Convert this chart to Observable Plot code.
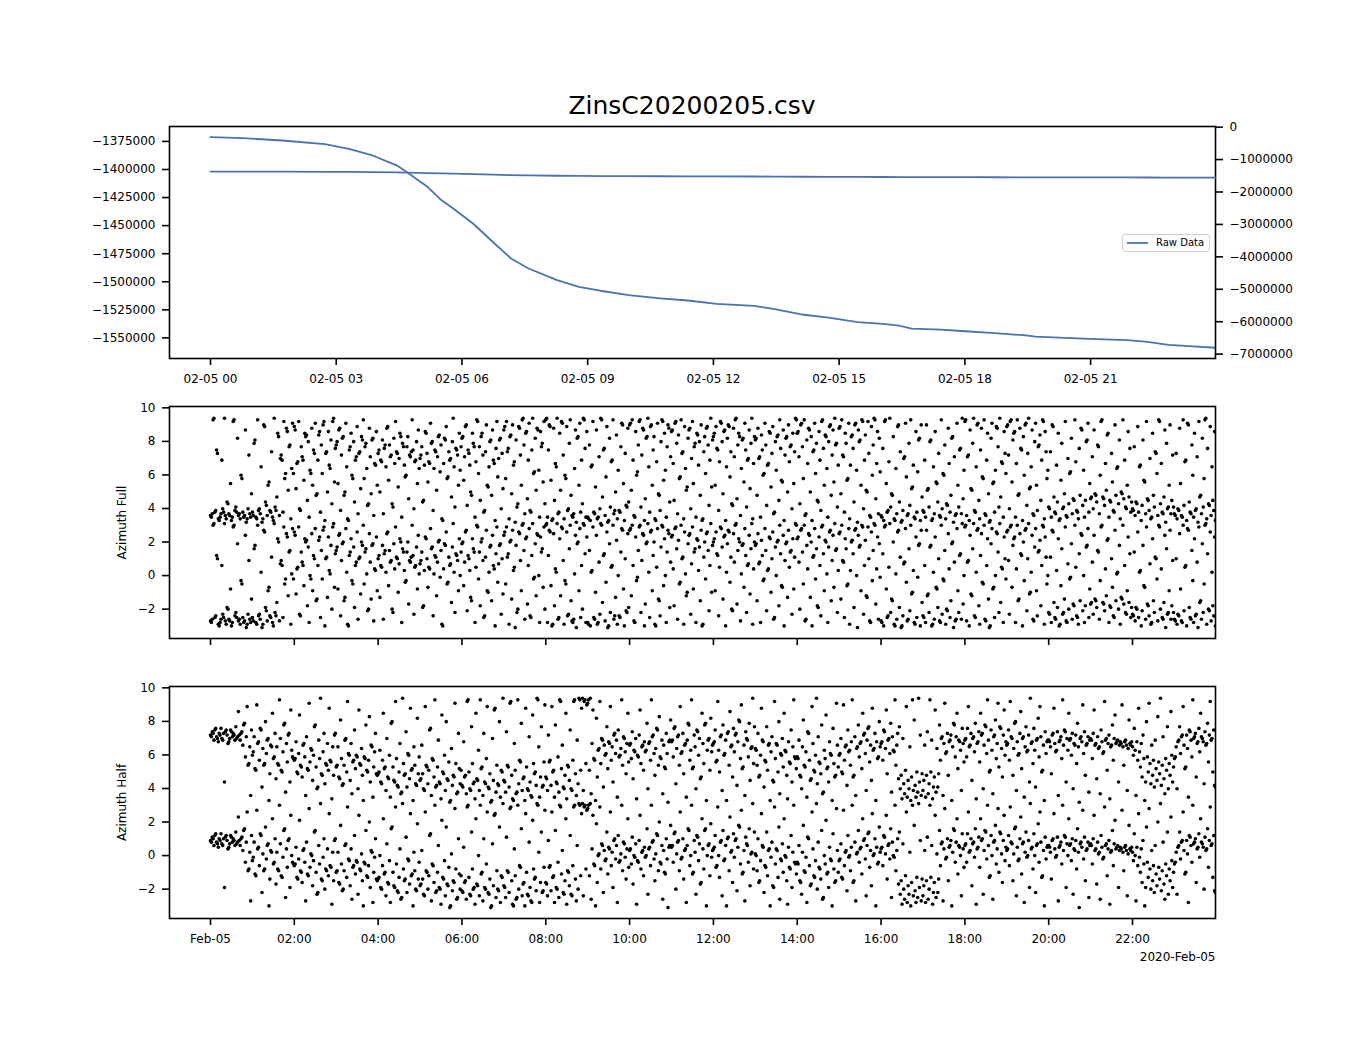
<!DOCTYPE html>
<html>
<head>
<meta charset="utf-8">
<script src="https://cdn.jsdelivr.net/npm/d3@7"></script>
<script src="https://cdn.jsdelivr.net/npm/@observablehq/plot@0.6"></script>
<style>
  body { margin: 0; background: #fff; font-family: "DejaVu Sans", sans-serif; }
  #fig { position: relative; width: 1350px; height: 1050px; overflow: hidden; background: #fff; }
  #fig svg { position: absolute; left: 0; overflow: visible; }
  #title { position: absolute; left: 0; top: 93px; width: 1384px; text-align: center; font-size: 25px; line-height: 25px; color: #000; }
  #legend { position: absolute; left: 1122px; top: 234px; width: 86px; height: 16px; border: 1px solid #cfcfcf; border-radius: 3px; background: rgba(255,255,255,0.8); font-size: 10px; color: #000; }
  #legend .lt { position: absolute; left: 33px; top: 2px; line-height: 12px; }
</style>
</head>
<body>
<div id="fig">
  <div id="title"></div>
</div>
<script>
// ---------------- data ----------------
const figTitle = "ZinsC20200205.csv";
const legendLabel = "Raw Data";
const dayLabel = "2020-Feb-05";
const fullLabel = "Azimuth Full";
const halfLabel = "Azimuth Half";

// Raw data curve (hours after 2020-02-05 00:00, value)
const rawHours = [0, 0.77, 1.79, 2.73, 3.33, 3.84, 4.44, 4.69, 5.16, 5.50, 5.80, 6.27, 6.74, 7.17, 7.59, 8.27, 8.79, 9.30, 9.98, 10.73, 11.39, 12.08, 12.97, 13.46, 14.16, 14.75, 15.44, 16.04, 16.43, 16.73, 17.42, 18.01, 18.71, 19.40, 19.69, 20.39, 20.98, 21.87, 22.36, 22.86, 23.35, 23.97];
const rawValues = [-1371200, -1372000, -1374400, -1377400, -1381800, -1387100, -1396300, -1402500, -1414900, -1427000, -1435000, -1448300, -1464600, -1479300, -1488200, -1498600, -1504500, -1508000, -1511900, -1514800, -1516700, -1519700, -1521400, -1524400, -1529400, -1532000, -1535900, -1537600, -1539100, -1541700, -1542600, -1544100, -1545800, -1547600, -1548800, -1550000, -1550900, -1552000, -1553500, -1556200, -1557300, -1558800];

// Tick values
const leftTicks = [-1375000, -1400000, -1425000, -1450000, -1475000, -1500000, -1525000, -1550000];
const rightTicks = [0, -1000000, -2000000, -3000000, -4000000, -5000000, -6000000, -7000000];
const topTickHours = [0, 3, 6, 9, 12, 15, 18, 21];
const bottomTickHours = [0, 2, 4, 6, 8, 10, 12, 14, 16, 18, 20, 22];
const azTicks = [-2, 0, 2, 4, 6, 8, 10];

// Azimuth Full, radians, one row per hour of samples (each also drawn +2π)
const azFullByHour = [
[-2.7,-2.8,-2.6,3.0,3.1,-2.5,-2.4,1.2,1.0,-2.9,-3.0,-2.8,-2.6,0.6,-2.3,-2.5,3.1,-2.7,-2.9,-1.9,-2.0,-2.6,-2.7,-0.8,-3.0,-2.8,2.9,3.0,-2.4,-2.2,-2.5,1.9,-2.7,-2.6,-2.9,-0.3,-0.5,-2.5,-2.8,-2.7,2.4,-3.1,-2.9,-2.3,0.9,-2.6,-2.8,-1.4],
[-2.5,-2.7,1.6,1.8,-2.8,-2.9,3.0,-2.4,-2.3,-2.6,0.2,-3.1,-2.9,2.7,2.6,-1.9,-2.1,-2.7,-0.9,-0.7,-2.4,-2.5,1.1,-2.8,-3.0,3.1,-2.2,-2.4,-1.6,2.2,2.0,-2.7,0.7,0.9,0.6,-2.5,2.9,-0.5,-0.2,2.5,2.3,-1.2,1.4,1.5,-2.9,0.1,2.8,-0.2],
[2.6,2.4,-1.1,0.4,0.5,2.9,-2.3,-2.4,1.4,0.8,0.6,-0.6,2.2,2.0,2.1,-1.8,1.7,-2.8,0.0,-0.2,2.5,-0.9,1.2,1.0,2.8,-1.5,-1.4,0.6,2.1,2.3,-2.5,1.5,-0.2,2.7,2.9,-3.0,1.0,1.1,-1.3,2.3,0.3,0.1,1.8,-2.0,2.9,3.1,-0.7,1.3],
[1.5,1.7,-0.8,2.4,2.5,-2.4,0.9,1.9,2.0,-1.5,-1.3,2.8,0.2,-2.9,-3.0,1.2,1.4,2.2,-0.3,-0.5,1.7,-1.9,0.6,0.8,2.6,-2.6,1.0,1.1,-1.1,2.0,1.8,3.0,-0.5,1.4,1.6,0.1,-2.1,-2.0,2.5,0.8,-1.4,1.8,1.9,-2.7,0.4,0.3,2.3,-0.9],
[1.0,1.2,-1.3,0.6,0.5,1.8,-2.6,1.3,1.5,0.2,2.5,2.6,-0.6,1.5,0.8,0.9,-2.0,-2.2,1.9,0.4,2.9,1.1,1.0,-1.0,0.7,2.2,2.0,-2.8,1.6,1.4,0.3,-0.4,-0.3,1.4,2.0,-1.7,0.9,0.8,1.1,3.0,1.2,-2.3,0.5,0.6,1.7,-0.8,2.4,0.1],
[0.7,0.9,1.4,-1.9,-1.8,0.3,2.3,2.2,1.0,-0.7,0.5,0.4,2.8,1.6,1.7,-2.4,0.1,1.2,1.1,-1.2,0.8,2.0,2.1,-0.1,1.5,-2.9,-3.0,0.4,1.9,1.8,2.6,-0.5,-0.4,1.1,0.6,0.7,-1.6,1.7,3.1,0.2,-2.2,1.3,1.2,0.9,-0.9,2.2,0.0,1.4],
[1.9,2.0,-0.6,0.8,2.6,2.7,-2.1,1.2,1.0,0.3,-1.3,-1.5,2.2,1.6,1.4,-2.8,0.5,3.0,2.9,-0.2,1.4,-1.8,2.0,2.2,0.9,-2.5,-2.4,1.1,2.7,-0.9,-1.0,0.2,1.7,1.8,-1.5,2.4,0.6,0.4,-3.0,1.3,2.9,-0.4,0.7,1.8,1.9,-2.3,1.0,-1.1],
[2.4,2.6,-0.5,2.9,1.1,1.3,-2.9,2.0,2.1,-1.4,2.7,0.3,0.5,-3.1,1.8,-2.2,-2.0,2.6,2.5,0.9,-0.9,3.0,3.1,1.5,-2.6,2.2,2.3,-1.7,0.6,2.8,-2.4,-2.5,1.2,3.1,-0.2,-0.1,1.9,-1.2,2.5,2.4,0.0,-2.8,2.3,1.4,1.6,-0.7,2.9,-2.0],
[3.0,3.1,-2.8,1.2,2.7,2.6,-0.6,-3.0,-2.9,2.5,-1.8,0.4,0.2,3.1,-2.6,-2.5,2.2,-1.2,2.9,2.8,0.9,-2.9,-0.3,-0.5,2.6,-2.4,-2.3,1.6,3.0,-1.5,-2.7,-2.8,-2.6,0.1,2.4,-3.1,1.9,2.0,-0.9,2.8,-2.5,0.6,-2.0,3.1,3.0,1.3,-2.8,2.3],
[-2.8,-2.9,1.5,-3.0,0.2,0.3,2.9,-2.5,-2.6,-1.0,2.4,-2.9,-2.8,0.8,-2.3,3.1,3.0,-1.6,1.2,1.3,-2.7,-0.4,2.6,-3.1,-3.0,1.9,-2.2,0.5,0.6,3.0,-2.6,-2.4,-1.3,2.1,-2.9,0.0,-2.4,-2.5,1.4,2.8,2.7,-0.8,-3.0,1.0,-2.1,-2.2,2.5,-1.9],
[2.7,2.8,-1.2,3.0,0.6,-2.7,-2.8,2.3,-0.3,-0.1,1.5,2.9,3.0,-2.2,0.9,2.5,2.4,-3.0,-1.7,1.9,2.0,3.1,0.2,-2.5,2.6,2.7,-0.9,1.2,2.0,-2.9,-3.0,0.5,2.8,-1.4,-1.5,-2.4,1.7,3.0,2.9,-0.6,2.2,0.0,-2.8,1.4,2.7,2.5,-1.9,0.8],
[2.3,2.4,0.4,-1.8,2.8,2.9,1.6,-2.6,2.1,-0.5,-0.4,3.0,1.0,1.1,-2.9,2.6,0.1,-1.2,-1.0,1.9,2.4,2.5,-2.3,0.7,2.9,-0.8,1.4,1.6,-2.8,2.2,2.1,0.3,1.7,-1.5,2.7,-3.0,-2.9,1.1,2.0,-0.2,2.5,2.6,1.5,-2.1,0.6,3.1,-1.0,1.8],
[2.0,2.2,-0.9,2.6,1.3,1.2,-2.4,0.5,2.9,2.8,1.7,-1.4,2.3,2.4,-3.0,0.2,1.9,2.7,2.6,-0.4,1.1,-2.0,-2.1,2.5,0.8,3.0,3.1,-1.7,1.5,2.2,2.0,-2.7,0.1,1.8,1.9,-0.7,2.8,1.2,-2.2,0.6,0.7,2.4,-1.1,1.6,3.1,-2.9,0.4,2.0],
[1.8,1.9,-1.5,2.5,0.7,0.8,-2.8,2.1,1.2,-0.3,-0.2,2.8,1.5,-2.1,0.3,0.4,2.3,2.2,-1.0,1.0,2.6,-2.6,-2.5,1.7,0.0,2.0,2.1,-1.8,3.0,1.3,-0.6,-0.7,2.4,-3.0,0.9,1.9,2.0,-1.3,2.7,0.5,1.4,1.5,-2.3,2.2,-0.8,1.1,3.1,3.0],
[2.2,2.3,0.8,-2.0,2.7,2.8,1.4,-0.5,3.0,-2.7,-2.6,1.8,0.4,2.5,2.4,-1.3,2.0,-3.0,1.1,1.2,2.8,-0.2,1.6,-1.8,-1.9,2.3,0.6,-2.4,2.9,3.0,1.3,-0.9,2.1,2.0,0.1,-2.8,1.7,2.6,2.7,-1.5,0.9,2.4,-0.7,3.1,1.5,1.6,-2.2,0.3],
[2.5,2.6,-1.4,3.0,0.9,0.8,-2.5,2.2,1.6,-0.6,-0.5,2.8,-2.9,0.3,2.0,2.1,1.3,-1.9,2.7,2.8,0.0,-3.1,2.4,1.7,1.8,-0.9,3.0,2.9,-2.3,0.6,2.1,-1.2,-1.3,2.9,1.0,-2.7,-2.8,2.6,-0.3,1.5,3.1,3.0,-1.7,0.4,2.3,-2.6,1.9,-0.1],
[-2.7,-2.8,1.3,-3.0,2.9,3.0,-0.8,-2.5,-2.4,0.5,3.1,-2.2,-1.4,-1.5,2.0,-2.9,-3.0,0.1,-2.6,2.6,2.7,-1.9,1.1,-3.1,-3.0,-2.4,0.7,0.8,2.8,-0.4,-2.7,-2.6,1.6,-2.1,3.0,-1.1,-1.0,0.3,-2.8,-2.9,2.3,-2.5,-0.1,1.8,1.9,-3.0,2.7,-1.6],
[-2.4,-2.5,0.6,-2.8,2.7,-1.2,-1.1,-2.2,1.7,1.8,-3.0,-2.9,0.2,-2.6,2.3,-0.7,-0.8,-1.9,1.0,-2.7,-2.8,3.0,-2.3,-0.2,-0.3,1.5,-2.9,-2.0,-2.1,2.5,0.4,-2.5,-1.5,1.9,2.0,-3.1,0.8,-2.7,-2.6,2.8,-0.9,-2.2,1.2,1.3,-2.6,3.1,-1.7,0.0],
[2.9,3.0,-2.7,0.8,0.9,-3.0,2.4,-1.1,-1.2,1.6,3.1,-2.4,-2.5,0.2,2.7,2.8,-1.8,-2.9,1.2,2.5,-0.4,-0.5,3.0,-2.6,-2.7,0.6,2.2,-1.4,-3.1,-3.0,1.9,2.8,-0.8,-0.7,-2.5,0.0,2.6,2.5,1.4,-2.2,3.1,-1.6,0.5,0.4,-2.8,2.3,1.0,-0.2],
[2.6,2.7,0.9,-2.3,2.9,3.0,-0.7,1.8,2.2,2.3,-2.8,0.4,3.0,-1.5,-1.4,2.5,1.3,1.2,-3.0,2.0,-0.3,2.7,2.8,-2.1,1.0,3.1,-1.1,-1.0,0.2,2.4,-2.6,-2.7,1.7,2.8,-0.9,-2.4,1.4,1.5,2.1,-1.8,0.6,3.0,2.9,-2.9,2.3,1.1,-0.5,0.0],
[-2.2,-2.3,1.1,-2.8,2.7,2.6,-1.6,-2.5,-2.6,0.3,-1.9,2.2,-3.0,-2.9,-0.6,1.6,-2.3,-2.2,-1.4,2.9,-2.7,-2.8,0.7,-2.0,-0.2,-0.1,1.9,-2.6,-1.7,-1.8,3.0,0.5,-2.4,-2.5,-2.9,1.3,-1.5,2.5,2.4,-2.1,0.0,-2.8,-1.8,1.7,1.8,2.8,-2.5,-0.8],
[-1.7,-1.6,0.8,-2.3,2.4,-1.4,-1.5,-1.9,1.5,1.4,-2.6,-0.3,2.9,3.0,-1.6,-1.7,-2.1,0.4,-1.2,2.1,2.2,-2.8,-1.8,-1.9,1.0,-0.7,-2.4,-2.5,2.7,-1.5,0.1,0.2,-2.0,1.8,-2.9,-1.3,-1.4,3.0,-1.7,0.6,-2.2,-2.3,-0.9,2.3,-1.6,1.3,-2.5,-1.9],
[-2.3,-2.4,1.4,-2.7,-1.9,-2.0,2.6,-2.5,0.2,0.3,-3.0,-2.1,1.8,-0.6,-0.7,-2.6,2.9,-1.7,-1.8,-2.4,0.7,-2.9,-2.8,2.2,-1.5,-2.2,1.1,1.0,-0.2,-2.7,3.0,2.9,-2.0,0.4,-2.5,-2.6,-1.6,2.4,-3.1,1.6,-2.3,-2.2,-0.9,2.7,-2.6,-1.8,0.9,-2.2],
[-2.6,-2.7,1.0,-2.9,-2.3,-2.4,2.5,-0.8,-2.7,-2.8,3.0,-2.1,0.5,0.6,-3.0,2.8,2.7,-1.9,-2.5,-2.6,1.5,-0.3,-2.8,2.2,-2.4,-2.3,0.8,-3.1,2.9,-1.6,-1.5,-2.6,1.9,-2.2,-0.5,3.0,3.1,-2.9,1.3,-2.0,-2.1,2.6,-2.7,0.2,-1.8,-2.4,2.3,-3.0]
];

// Azimuth Half, radians, one row per hour of samples (each also drawn +2π)
const azHalfByHour = [
[0.9,0.8,1.1,1.0,0.6,1.2,1.3,0.8,0.7,0.5,1.0,0.9,1.3,0.7,0.6,1.0,-1.9,1.1,1.2,0.9,0.4,0.5,0.7,1.2,1.1,0.8,1.0,0.9,0.6,1.4,0.7,0.8,2.3,0.9,0.6,1.0,1.1,0.3,1.5,1.6,-0.4,0.8,2.6,-0.9,-0.8,0.2,-2.7,1.2],
[-0.3,-0.1,0.8,-1.1,-1.2,2.7,0.4,0.5,-0.6,1.3,1.2,-2.2,0.1,-0.9,-0.8,1.7,-0.2,0.6,0.7,-3.0,-1.4,0.3,0.2,2.2,-0.5,-0.4,1.0,-1.7,0.2,-0.8,-0.9,3.0,0.7,-1.2,-1.3,-0.1,1.5,1.6,-2.5,0.4,-0.7,0.9,1.0,-1.9,2.4,0.0,-0.4,-0.5],
[-0.6,-0.5,0.5,-1.3,-1.4,-0.2,2.1,-0.9,-1.0,-1.6,0.3,0.4,-0.4,-2.7,0.8,-1.1,-1.2,2.8,-0.7,0.1,0.0,-1.8,-0.3,1.4,1.5,-1.0,-2.3,-2.2,0.6,-0.5,3.1,-1.4,-1.5,-0.1,1.0,-2.0,-0.8,-0.9,0.4,-1.2,2.5,-0.6,-0.7,-2.9,0.2,-1.5,0.9,1.0],
[-1.0,-0.9,0.2,-1.6,-1.7,1.8,-0.5,-2.1,-2.0,-0.9,0.6,0.7,-1.3,2.9,-0.2,-0.3,-1.8,0.4,-2.6,-0.7,-0.6,1.2,-1.1,-0.3,-0.4,-2.3,2.4,-0.8,-0.9,0.1,-1.5,-3.0,-0.4,-0.5,1.5,-1.2,-1.3,-0.6,2.0,-1.9,0.3,0.2,-2.8,-1.0,-0.1,1.0,-1.4,-1.5],
[-1.4,-1.3,0.0,-1.9,-2.0,-0.6,2.2,-1.1,-1.0,-2.4,0.7,-1.6,-1.7,-0.3,-2.8,1.6,1.7,-1.0,-1.8,-1.9,2.9,-0.5,-2.1,-2.2,-1.3,0.4,-2.6,-2.5,3.1,-0.8,-1.5,-1.4,1.1,-2.2,-0.2,-0.3,-1.7,2.5,-1.2,-1.1,-3.0,0.2,-0.9,-2.0,-2.1,1.9,-1.4,-0.4],
[-1.8,-1.7,0.3,-1.4,-2.3,-2.4,2.6,-0.9,-1.0,-2.0,-1.2,1.2,1.3,-2.7,-0.5,-0.6,-1.6,3.0,-2.2,-2.1,-1.0,0.6,-1.9,-2.0,-2.9,2.1,-1.3,-1.4,-0.3,-2.4,1.7,-1.7,-1.8,-0.7,-3.1,-3.0,0.1,-2.1,-1.5,-1.6,2.8,-0.8,-2.6,-2.5,1.0,-1.1,-2.0,-1.2],
[-2.1,-2.2,0.5,-1.6,-1.5,-2.6,2.9,3.0,-1.3,-2.3,-2.4,1.4,-0.8,-2.0,-1.9,-2.9,2.2,-1.7,-1.8,0.0,-2.4,3.0,-1.1,-1.0,-2.7,1.0,-1.9,-2.0,-0.5,2.6,-2.2,-2.3,-1.4,-3.1,-3.0,0.7,-1.8,2.4,2.5,-2.5,-0.9,-2.0,-2.1,1.7,-2.8,-1.2,-1.3,3.1],
[-1.8,-1.9,-2.5,1.1,-0.9,-1.0,-2.2,2.8,2.9,-1.5,-2.9,-3.0,0.4,-1.2,-2.6,-2.5,3.0,-2.0,-0.6,-0.7,1.6,-2.4,-1.7,-1.6,-3.0,2.5,-1.0,-2.3,-2.4,0.8,-1.9,-2.7,-2.8,2.1,-0.8,-1.4,-1.3,-2.1,3.1,3.0,0.2,-2.8,-1.6,1.4,-2.2,-2.1,-0.7,2.7],
[-1.6,-1.7,-2.4,0.9,-0.7,-0.6,-2.1,2.6,-1.3,-1.2,-2.8,1.5,-1.9,-2.0,-0.4,-2.5,3.0,2.9,-1.1,0.3,-2.2,-2.3,-1.5,2.2,-2.9,-0.9,-1.0,-1.8,1.2,-2.3,-2.4,-0.6,2.9,3.0,-1.4,-2.7,0.6,-2.0,3.1,3.0,-1.2,2.5,3.1,-2.4,2.9,3.0,-0.8,2.7],
[2.8,3.0,-1.2,3.1,-2.6,0.4,2.4,-0.5,-0.6,-3.0,1.9,-1.6,0.0,0.1,2.9,-0.8,0.7,0.6,-2.2,0.3,-0.3,-0.2,1.4,-1.1,0.5,0.4,2.6,-0.6,0.2,-1.9,0.9,1.0,-0.2,0.6,-2.8,1.2,-0.4,-0.3,0.1,3.0,-0.9,0.8,0.7,-0.1,-1.4,0.4,2.2,-0.7],
[0.3,0.4,-0.5,1.1,-1.7,0.0,-0.1,0.7,-2.9,-0.3,-0.4,0.9,2.4,-0.8,0.2,0.3,-1.2,0.5,-0.1,0.0,1.6,-2.3,0.4,0.5,-0.6,3.0,0.8,0.9,-0.2,-1.5,0.1,1.3,1.2,-0.9,2.0,-0.4,-0.5,0.6,-2.6,0.3,-1.0,-1.1,1.0,-0.2,-3.1,0.5,0.6,1.8],
[0.5,0.6,-0.4,1.3,1.4,-2.0,0.1,0.8,0.9,-0.9,2.6,-0.2,-0.1,1.0,-1.4,0.3,0.4,-2.8,0.6,1.6,1.5,-0.6,0.0,3.0,-1.1,-1.0,0.9,0.2,-2.3,1.2,1.1,-0.3,0.7,-1.7,-1.6,2.2,0.4,-0.8,1.5,1.6,-3.0,0.0,0.6,0.7,-1.2,1.9,-0.1,0.3],
[0.4,0.5,1.2,-0.7,-0.6,2.9,0.0,-1.3,0.8,0.9,-2.4,1.5,-0.3,-0.2,0.6,-3.0,1.0,1.1,-0.9,2.3,0.2,0.3,-1.6,1.3,-0.1,0.9,1.0,-2.1,0.5,1.8,1.7,-0.5,2.7,-1.1,-1.0,0.3,-2.7,1.1,0.7,0.6,-0.4,1.6,-1.8,0.1,0.2,3.1,-0.8,1.4],
[0.1,0.0,-0.9,1.0,-1.6,-1.5,-0.3,2.5,0.6,0.5,-2.2,-0.6,-0.7,1.4,-1.2,0.3,0.4,-3.0,-0.1,0.8,-1.8,-1.9,2.9,-0.5,0.4,0.3,-1.3,1.7,-2.6,-0.2,-0.3,0.7,-1.0,2.2,0.0,-0.1,-1.5,-2.9,0.5,-0.7,-0.8,1.2,-1.9,0.2,3.0,-0.4,-0.5,-1.1],
[-0.4,-0.5,0.6,-1.5,-1.6,-2.3,0.2,1.8,-0.9,-1.0,-0.1,-2.8,1.1,1.0,-0.6,-1.8,-1.7,2.6,0.4,-1.2,-1.3,-0.3,3.1,-2.0,0.8,-0.7,-0.8,-1.4,1.5,-2.6,-2.5,0.0,-0.5,2.1,-1.1,-1.0,-1.9,0.5,-0.2,-0.3,-3.0,1.3,-0.8,-1.6,-1.5,2.8,0.3,-1.0],
[-0.3,-0.2,0.7,-1.3,-1.4,2.7,-0.6,0.2,0.3,-2.1,1.2,-0.1,0.0,-0.9,0.5,3.0,-1.6,-1.5,0.8,-2.7,0.1,0.2,1.5,-0.4,0.4,0.5,-1.1,2.2,0.9,1.0,-0.2,-2.4,0.6,1.3,1.4,-0.7,0.3,-1.8,2.5,0.0,0.1,1.0,-3.0,0.5,-0.5,-0.4,1.7,0.2],
[0.4,0.5,-0.6,1.2,1.1,0.1,2.4,-1.4,0.6,0.7,-0.2,1.6,-2.5,0.8,0.0,-0.1,3.0,-0.9,0.3,1.0,-1.7,1.4,-2.3,-1.5,-2.9,0.7,-2.0,-2.6,-1.2,2.6,-2.8,-1.8,-2.3,0.2,-3.0,-1.6,3.0,-2.4,1.8,-2.1,-2.8,-1.3,-2.5,3.1,-1.9,0.9,-2.7,-1.4],
[-2.4,-1.8,0.3,-2.8,-1.5,1.1,-2.6,-2.0,3.0,-1.3,0.6,-2.9,-2.2,-1.6,2.4,-2.5,0.1,-2.2,-1.4,1.5,-0.6,0.7,0.8,-2.7,0.4,2.8,-0.2,-0.1,1.0,-1.5,0.5,0.6,0.9,-3.0,0.2,1.6,1.5,-0.4,0.8,2.2,-1.1,0.6,0.5,0.0,-2.4,1.3,0.4,-0.7],
[0.6,0.7,-0.4,1.3,2.6,0.2,0.3,1.0,-1.8,0.7,0.8,-0.1,1.6,-2.9,0.4,0.5,1.1,-0.7,2.2,0.9,1.0,-2.3,0.3,1.5,1.4,-0.2,3.0,0.6,-1.3,-1.2,1.2,0.0,-2.6,0.8,0.9,1.8,-0.5,0.4,2.8,-1.0,1.4,1.3,0.1,-1.6,0.9,2.4,-0.3,0.5],
[0.3,0.4,1.2,-0.6,2.9,0.8,0.7,-1.5,0.1,1.6,1.7,-2.4,0.5,-0.3,-0.2,1.0,2.3,-1.1,0.7,0.8,-2.8,0.2,1.4,-0.1,0.0,0.9,-1.9,3.1,0.4,0.5,-0.8,1.3,0.0,-2.2,0.6,0.7,1.9,-0.4,2.6,0.8,-1.3,-1.2,0.3,-3.0,1.1,-0.2,0.5,0.6],
[0.6,0.5,0.2,-1.4,0.9,1.0,2.5,0.4,-0.1,0.0,1.1,-2.7,0.5,0.6,0.8,-0.5,3.0,0.3,1.2,1.1,-1.9,0.7,0.0,2.2,0.6,0.7,-0.3,1.0,-2.3,0.4,0.3,0.9,-0.8,1.6,0.2,-3.1,0.7,0.8,0.5,2.7,-0.2,1.1,-1.5,0.3,0.4,0.8,-2.5,0.6],
[0.7,0.6,-0.5,1.0,2.4,0.3,0.4,-1.7,0.8,0.1,0.2,-2.6,1.2,0.5,-0.2,-0.1,2.9,0.6,0.7,-1.2,0.4,0.9,-2.9,0.2,0.3,1.5,-0.6,0.7,2.1,0.4,0.5,0.6,-1.9,0.3,0.5,0.4,2.7,0.2,-0.9,0.5,0.6,0.3,-2.4,0.1,1.8,0.4,0.3,0.5],
[0.2,-0.3,1.3,0.0,-2.7,0.5,-0.6,2.5,-0.1,-1.0,0.4,-1.6,0.9,-0.5,-3.0,-1.9,1.7,-0.4,-1.3,2.8,-0.8,-2.0,0.3,-1.5,-0.6,-2.2,0.6,-1.1,-1.8,2.0,-0.7,-1.4,3.1,-2.1,-0.9,0.8,-1.7,-2.6,-0.5,-1.2,1.4,-2.3,-0.8,-1.5,2.3,-0.3,-1.9,-1.0],
[-0.5,-0.4,0.2,-2.3,0.5,0.6,1.4,-0.2,0.8,0.9,2.6,0.3,-1.1,-1.0,0.9,0.1,-2.8,1.2,1.1,0.6,-0.4,3.0,0.7,0.8,1.0,-1.6,0.4,0.5,1.3,-0.1,2.2,0.8,0.7,0.5,-2.0,1.1,0.3,0.4,1.6,-0.7,0.9,2.9,0.6,0.7,-1.3,1.2,-2.1,-2.2]
];

// ---------------- build ----------------
const HOUR = 3600e3;
const day0 = Date.UTC(2020, 1, 5);
const at = h => new Date(day0 + h * HOUR);
const xDomain = [at(-0.978), at(23.98)];
const TAU = 2 * Math.PI;

const raw = rawHours.map((h, i) => ({time: at(h), value: rawValues[i]}));
function toPoints(rows) {
  const out = [];
  rows.forEach((row, h) => row.forEach((v, j) => out.push({time: at(h + j / row.length), az: v})));
  return out;
}
const fullPts = toPoints(azFullByHour);
const halfPts = toPoints(azHalfByHour);

const minus = d => (d < 0 ? "\u2212" : "") + Math.abs(d);
const FONT = "DejaVu Sans";
const style = {fontFamily: FONT, fontSize: "12px", color: "black", background: "transparent", overflow: "visible"};
const W = 1350, ML = 169, MR = 135, FH = 232;
const blue = "#4c72b0";
const xAxisOpts = {tickSize: 7, tickPadding: 9, strokeWidth: 1.6, label: null};
const yAxisOpts = {tickSize: 7, tickPadding: 7, strokeWidth: 1.6, label: null};

const fig = document.getElementById("fig");
function place(svg, top) { svg.style.top = top + "px"; fig.appendChild(svg); }

// Top panel, left axis
const topLeft = Plot.plot({
  width: W, height: FH + 50, marginLeft: ML, marginRight: MR, marginTop: 10, marginBottom: 40,
  style,
  x: {type: "utc", domain: xDomain},
  y: {domain: [-1568360, -1361700]},
  marks: [
    Plot.line(raw, {x: "time", y: "value", stroke: blue, strokeWidth: 1.8}),
    Plot.frame({stroke: "black", strokeWidth: 1.6}),
    Plot.axisX({...xAxisOpts, ticks: topTickHours.map(at), tickFormat: d3.utcFormat("%m-%d %H")}),
    Plot.axisY({...yAxisOpts, ticks: leftTicks, tickFormat: minus})
  ]
});
place(topLeft, 116);

// Top panel, right axis (same data on the twin scale)
const topRight = Plot.plot({
  width: W, height: FH + 50, marginLeft: ML, marginRight: MR, marginTop: 10, marginBottom: 40,
  style,
  x: {type: "utc", domain: xDomain, axis: null},
  y: {domain: [-7135000, 20000]},
  marks: [
    Plot.line(raw, {x: "time", y: "value", stroke: blue, strokeWidth: 1.8}),
    Plot.axisY({...yAxisOpts, anchor: "right", ticks: rightTicks, tickFormat: minus})
  ]
});
place(topRight, 116);

function azPanel(pts, label, showX) {
  const marks = [
    Plot.dot(pts, {x: "time", y: "az", r: 1.8, fill: "black", stroke: null, clip: true}),
    Plot.dot(pts, {x: "time", y: d => d.az + TAU, r: 1.8, fill: "black", stroke: null, clip: true}),
    Plot.frame({stroke: "black", strokeWidth: 1.6}),
    Plot.axisX({...xAxisOpts, ticks: bottomTickHours.map(at),
      tickFormat: showX ? (d => d.getTime() === day0 ? "Feb-05" : d3.utcFormat("%H:%M")(d)) : (() => "")}),
    Plot.axisY({...yAxisOpts, ticks: azTicks, tickFormat: minus}),
    Plot.text([label], {frameAnchor: "left", dx: -47, rotate: -90, textAnchor: "middle", fontSize: 12, fill: "black"})
  ];
  if (showX) marks.push(Plot.text([dayLabel], {frameAnchor: "bottom-right", dy: 42, textAnchor: "end", fontSize: 12, fill: "black"}));
  return Plot.plot({
    width: W, height: FH + 65, marginLeft: ML, marginRight: MR, marginTop: 10, marginBottom: 55,
    style,
    x: {type: "utc", domain: xDomain},
    y: {domain: [-3.75, 10.08]},
    marks
  });
}
place(azPanel(fullPts, fullLabel, false), 396);
place(azPanel(halfPts, halfLabel, true), 676);

// Legend
const lg = document.createElement("div");
lg.id = "legend";
lg.innerHTML = `<svg width="26" height="16" style="position:absolute;left:4px;top:0"><line x1="0" x2="21" y1="8" y2="8" stroke="${blue}" stroke-width="1.8"/></svg><span class="lt">${legendLabel}</span>`;
fig.appendChild(lg);
document.getElementById("title").textContent = figTitle;
</script>
</body>
</html>
